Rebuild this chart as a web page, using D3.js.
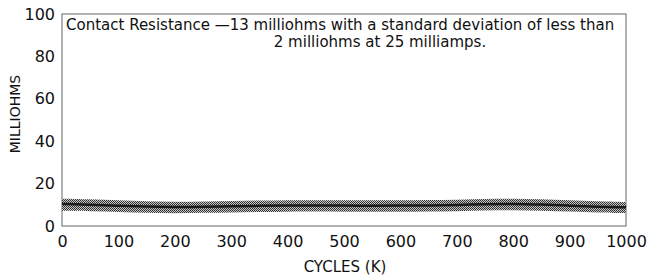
<!DOCTYPE html>
<html>
<head>
<meta charset="utf-8">
<script src="https://cdn.jsdelivr.net/npm/d3@7"></script>
<style>
  body { margin: 0; background: #fff; }
  text { font-family: "DejaVu Sans", sans-serif; fill: #111; }
</style>
</head>
<body>
<div id="plot"></div>
<script>
// Cycles (K) and the contact resistance band.
var cycles = [0, 50, 100, 150, 200, 250, 300, 350, 400, 450, 500, 550, 600, 650, 700, 750, 800, 850, 900, 950, 1000];
var resMid = [10.4, 10.1, 9.6, 9.1, 8.9, 9.0, 9.3, 9.5, 9.7, 9.7, 9.6, 9.6, 9.6, 9.7, 9.9, 10.3, 10.5, 10.1, 9.6, 9.1, 8.8];
var resLow = [7.2, 7.0, 6.6, 6.2, 6.0, 6.2, 6.4, 6.6, 6.8, 6.8, 6.7, 6.7, 6.7, 6.8, 7.0, 7.3, 7.5, 7.2, 6.8, 6.4, 6.1];
var resHigh = [12.9, 12.6, 12.1, 11.6, 11.4, 11.5, 11.8, 12.0, 12.2, 12.2, 12.1, 12.1, 12.1, 12.2, 12.4, 12.8, 13.0, 12.6, 12.1, 11.6, 11.3];
var xTicks = [0, 100, 200, 300, 400, 500, 600, 700, 800, 900, 1000];
var yTicks = [0, 20, 40, 60, 80, 100];
var titleLines = ["Contact Resistance \u201413 milliohms with a standard deviation of less than",
                  "2 milliohms at 25 milliamps."];

var margin = {top: 14, right: 25, bottom: 51, left: 62},
    width = 651 - margin.left - margin.right,
    height = 277 - margin.top - margin.bottom;

var svg = d3.select("#plot")
  .append("svg")
  .attr("width", 651)
  .attr("height", 277)
  .append("g")
    .attr("transform", "translate(" + margin.left + "," + margin.top + ")");

var x = d3.scaleLinear().domain([0, 1000]).range([0, width]);
var y = d3.scaleLinear().domain([0, 100]).range([height, 0]);

// Frame
svg.append("rect")
  .attr("x", 0).attr("y", 0)
  .attr("width", width).attr("height", height)
  .attr("fill", "none")
  .attr("stroke", "#666")
  .attr("stroke-width", 1);

// X axis
var xAxis = svg.append("g")
  .attr("transform", "translate(0," + height + ")")
  .call(d3.axisBottom(x).tickValues(xTicks).tickSize(0).tickPadding(10).tickFormat(d3.format("d")));
xAxis.select(".domain").remove();
xAxis.selectAll("text").style("font-size", "16px").attr("font-family", null);

svg.append("text")
  .attr("x", width / 2 + 1)
  .attr("y", height + 46)
  .style("text-anchor", "middle")
  .style("font-size", "15px")
  .text("CYCLES (K)");

// Y axis
var yAxis = svg.append("g")
  .call(d3.axisLeft(y).tickValues(yTicks).tickSize(0).tickPadding(7));
yAxis.select(".domain").remove();
yAxis.selectAll("text").style("font-size", "16px").attr("font-family", null);

svg.append("text")
  .attr("transform", "rotate(-90)")
  .attr("x", -(height / 2) + 6)
  .attr("y", -margin.left + 20)
  .style("text-anchor", "middle")
  .style("font-size", "14px")
  .text("MILLIOHMS");

// Band
var rows = cycles.map(function(c, i) { return {c: c, mid: resMid[i], lo: resLow[i], hi: resHigh[i]}; });

var defs = svg.append("defs");
var pat = defs.append("pattern")
  .attr("id", "stipple")
  .attr("width", 2).attr("height", 2)
  .attr("patternUnits", "userSpaceOnUse");
pat.append("rect").attr("width", 2).attr("height", 2).attr("fill", "#c8c8c8");
pat.append("rect").attr("width", 1).attr("height", 1).attr("fill", "#2a2a2a");
pat.append("rect").attr("x", 1).attr("y", 1).attr("width", 1).attr("height", 1).attr("fill", "#3a3a3a");

svg.append("path")
  .datum(rows)
  .attr("fill", "url(#stipple)")
  .attr("d", d3.area()
    .curve(d3.curveBasis)
    .x(function(d) { return x(d.c); })
    .y0(function(d) { return y(d.lo); })
    .y1(function(d) { return y(d.hi); }));

svg.append("path")
  .datum(rows)
  .attr("fill", "none")
  .attr("stroke", "#1a1a1a")
  .attr("stroke-width", 2.5)
  .attr("d", d3.line()
    .curve(d3.curveBasis)
    .x(function(d) { return x(d.c); })
    .y(function(d) { return y(d.mid); }));

// Title inside the frame
svg.append("text")
  .attr("x", 4)
  .attr("y", 16)
  .style("font-size", "15px")
  .text(titleLines[0]);
svg.append("text")
  .attr("x", 318)
  .attr("y", 33)
  .style("text-anchor", "middle")
  .style("font-size", "15px")
  .text(titleLines[1]);
</script>
</body>
</html>
